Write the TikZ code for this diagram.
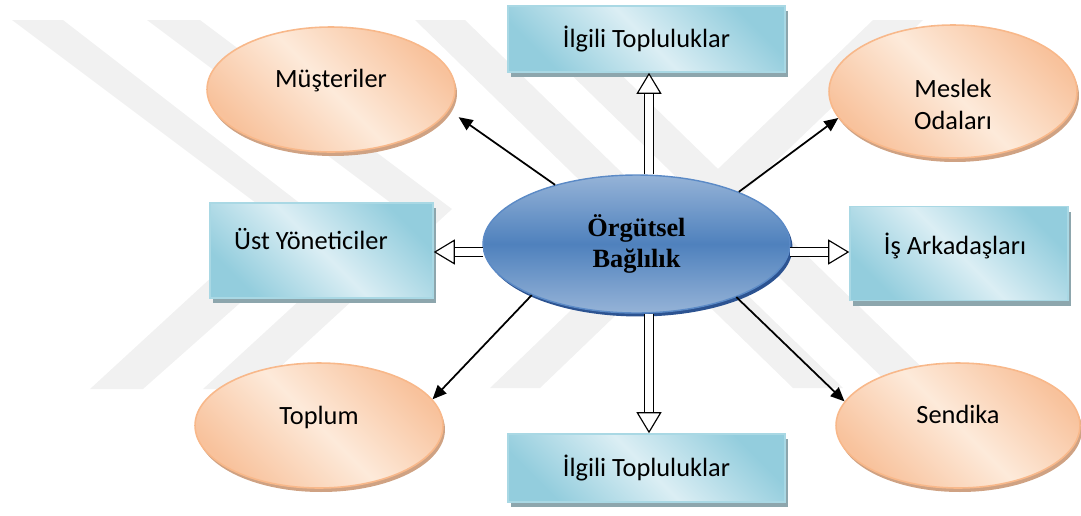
\documentclass[tikz,border=0pt]{standalone}
\usepackage{fontspec}
\setmainfont{Carlito}
\newfontfamily\titlefont{Liberation Serif}
\usetikzlibrary{shapes.geometric,shadows,arrows.meta,calc}

\definecolor{peachdark}{HTML}{F8C29C}
\definecolor{peachlight}{HTML}{FDEADA}
\definecolor{peachline}{HTML}{F8B88A}
\definecolor{peachshadow}{HTML}{CFA283}
\definecolor{cyandark}{HTML}{93CDDD}
\definecolor{cyanlight}{HTML}{DBEEF4}
\definecolor{cyanline}{HTML}{A9D8E4}
\definecolor{boxshadow}{HTML}{8DA6AD}
\definecolor{bluedark}{HTML}{4F81BD}
\definecolor{bluelight}{HTML}{95B3D7}
\definecolor{blueline}{HTML}{5B8AC6}
\definecolor{blueshadow}{HTML}{2C5391}
\definecolor{wmgray}{HTML}{F1F1F1}

\tikzset{
	oval/.style={ellipse, draw=peachline, line width=0.9pt, inner sep=0pt,
		top color=peachdark, bottom color=peachdark, middle color=peachlight, shading angle=-45,
		minimum width=4.96cm, minimum height=2.5cm,
		drop shadow={shadow xshift=0.04cm, shadow yshift=-0.08cm, fill=peachshadow, opacity=1}},
	panel/.style={rectangle, draw=cyanline, line width=0.9pt, inner sep=0pt,
		top color=cyandark, bottom color=cyandark, middle color=cyanlight, shading angle=-45,
		font=\fontsize{15}{18}\selectfont,
		drop shadow={shadow xshift=0.06cm, shadow yshift=-0.1cm, fill=boxshadow, opacity=1}},
	core/.style={ellipse, draw=blueline, line width=0.8pt, inner sep=0pt,
		top color=bluelight, bottom color=bluelight, middle color=bluedark,
		minimum width=6.14cm, minimum height=2.76cm, align=center,
		font=\titlefont\bfseries\fontsize{15}{17.6}\selectfont,
		drop shadow={shadow xshift=0.05cm, shadow yshift=-0.07cm, fill=blueshadow, opacity=1}},
	lbl/.style={inner sep=0pt, align=center, font=\fontsize{15}{18.7}\selectfont},
	arr/.style={black, line width=1pt, -{Triangle[length=0.28cm, width=0.24cm]}},
	hollow/.style={double=white, double distance=0.17cm, line width=0.65pt,
		-{Triangle[open, fill=white, length=0.42cm, width=0.5cm]}}
}

\begin{document}
\begin{tikzpicture}[x=0.02cm, y=-0.02cm]
	\useasboundingbox (0,0) rectangle (1081,515);
	% watermark
	\fill[wmgray] (12,20) -- (63,20) -- (328,225) -- (143,389) -- (90,389) -- (276,218) -- cycle;
	\fill[wmgray] (147,20) -- (200,20) -- (452,209) -- (256,389) -- (203,389) -- (399,209) -- cycle;
	\fill[wmgray] (490,388) -- (540,388) -- (923,20) -- (873,20) -- cycle;
	\fill[wmgray] (415,20) -- (465,20) -- (843,388) -- (793,388) -- cycle;
	\fill[wmgray] (515,20) -- (565,20) -- (943,388) -- (893,388) -- cycle;

	% centre
	\node[core] (cen) at (636.5,244) {Örgütsel\\Bağlılık};

	% boxes
	\node[panel, minimum width=5.54cm, minimum height=1.32cm] (up) at (646.5,39) {İlgili Topluluklar};
	\node[panel, minimum width=5.54cm, minimum height=1.36cm] (down) at (646.5,468) {İlgili Topluluklar};
	\node[panel, minimum width=4.46cm, minimum height=1.9cm] (lead) at (321.5,250.5) {};
	\node[panel, minimum width=4.36cm, minimum height=1.88cm] (mate) at (959,253.5) {};
	\node[lbl] (leadT) at ($(lead)+(-10.5,-11.5)$) {Üst Yöneticiler};
	\node[lbl] (mateT) at ($(mate)+(-4,-8)$) {İş Arkadaşları};

	% ellipses
	\node[oval] (mus) at (331,89.5) {};
	\node[oval, minimum height=2.66cm] (mes) at (953,91.5) {};
	\node[oval] (soc) at (319,425.5) {};
	\node[oval, minimum width=4.88cm] (sen) at (958,425.5) {};
	\node[lbl] (musT) at ($(mus)+(0,-9)$) {Müşteriler};
	\node[lbl] (mesT) at ($(mes)+(0,13)$) {Meslek\\Odaları};
	\node[lbl] (socT) at ($(soc)+(0,-8.5)$) {Toplum};
	\node[lbl] (senT) at ($(sen)+(0,-11)$) {Sendika};

	% hollow arrows
	\coordinate (upfoot) at ($(cen.north)+(12.5,0)$);
	\coordinate (downfoot) at ($(cen.south)+(12.5,0)$);
	\coordinate (leftfoot) at ($(cen.west)+(1,8)$);
	\coordinate (rightfoot) at ($(cen.east)+(-1,8)$);
	\draw[hollow] (upfoot) -- (upfoot |- up.south);
	\draw[hollow] (downfoot) -- (downfoot |- down.north);
	\draw[hollow] (leftfoot) -- (leftfoot -| lead.east);
	\draw[hollow] (rightfoot) -- (rightfoot -| mate.west);

	% black arrows
	\draw[arr, shorten >=0.24cm] (cen.144) -- (mus.-10);
	\draw[arr] (cen.27) -- (mes.-167.5);
	\draw[arr] (cen.-154) -- (soc.13);
	\draw[arr] (cen.-28) -- (sen.168);
\end{tikzpicture}
\end{document}
